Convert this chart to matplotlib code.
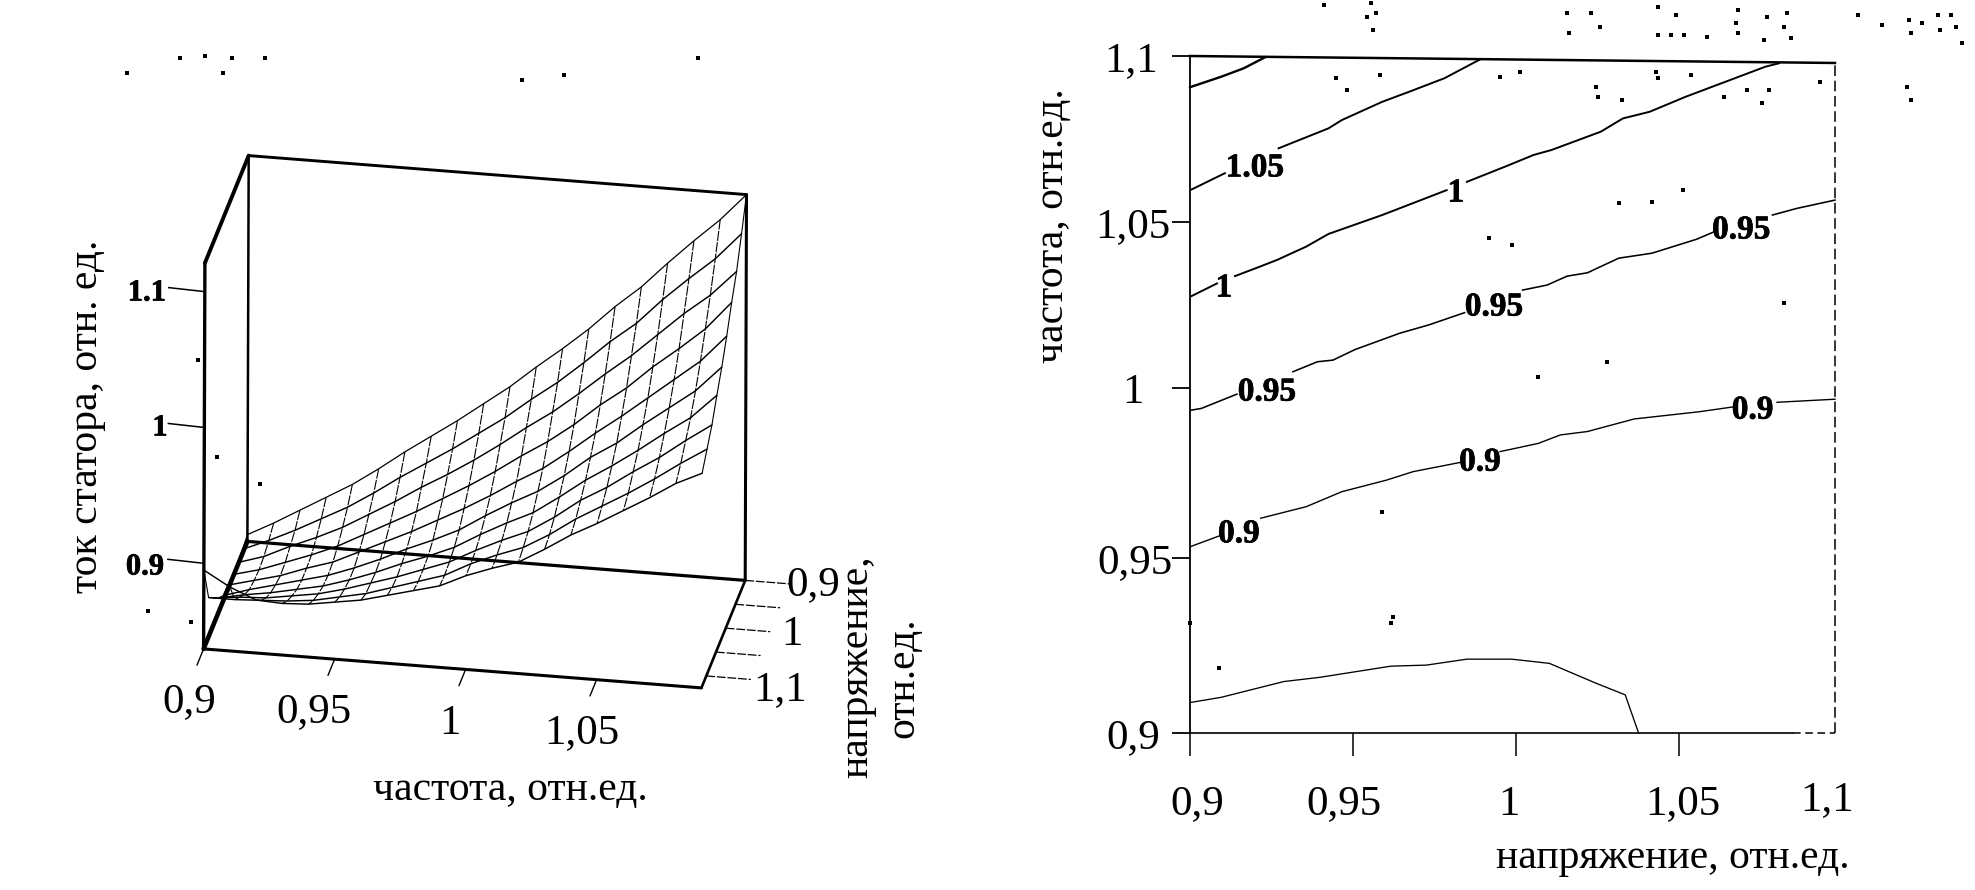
import numpy as np
import matplotlib
matplotlib.use("Agg")
import matplotlib.pyplot as plt
import matplotlib.patheffects as pe
from matplotlib.transforms import ScaledTranslation

plt.rcParams['font.family'] = ['Liberation Serif', 'DejaVu Serif']
nan = float('nan')

# ---------- left panel data: stator current over frequency / voltage ----------
FREQ = [0.90, 0.91, 0.92, 0.93, 0.94, 0.95, 0.96, 0.97, 0.98, 0.99,
        1.00, 1.01, 1.02, 1.03, 1.04, 1.05, 1.06, 1.07, 1.08, 1.09]
VOLT = [0.900, 0.925, 0.950, 0.975, 1.000, 1.025, 1.050, 1.075, 1.100, 1.125]
CUR_V0900 = [.842, .852, .863, .874, .885, .898, .912, .925, .938, .952, .966, .982, .997, 1.013, 1.031, 1.047, 1.066, 1.084, 1.101, 1.121]
CUR_V0925 = [.840, .848, .857, .867, .877, .889, .902, .914, .926, .939, .952, .967, .981, .997, 1.014, 1.029, 1.048, 1.065, 1.081, 1.101]
CUR_V0950 = [.839, .845, .854, .862, .871, .882, .893, .905, .916, .928, .941, .955, .968, .983, .999, 1.014, 1.031, 1.048, 1.063, 1.082]
CUR_V0975 = [.839, .844, .851, .858, .866, .876, .886, .896, .907, .918, .930, .943, .955, .969, .985, .999, 1.016, 1.031, 1.047, 1.068]
CUR_V1000 = [.840, .845, .850, .857, .863, .872, .881, .890, .900, .910, .921, .933, .944, .958, .973, .987, 1.002, 1.017, 1.032, 1.052]
CUR_V1025 = [.841, .847, .852, .857, .862, .869, .877, .886, .894, .903, .915, .926, .936, .949, .964, .976, .991, 1.005, 1.019, 1.038]
CUR_V1050 = [.848, .852, .855, .859, .863, .869, .876, .884, .891, .899, .910, .920, .929, .942, .956, .968, .981, .995, 1.008, 1.026]
CUR_V1075 = [.857, .859, .860, .863, .866, .871, .877, .883, .890, .897, .907, .916, .924, .936, .950, .961, .974, .986, 1.000, 1.013]
CUR_V1100 = [.866, .866, .867, .868, .870, .874, .878, .884, .890, .896, .906, .914, .921, .932, .945, .956, .967, .979, .992, 1.004]
CUR_V1125 = [.895, .884, .876, .875, .876, .879, .882, .887, .892, .897, .906, .913, .919, .930, .942, .952, .963, .974, .986, .995]
CURRENT_ROWS = [CUR_V0900, CUR_V0925, CUR_V0950, CUR_V0975, CUR_V1000,
                CUR_V1025, CUR_V1050, CUR_V1075, CUR_V1100, CUR_V1125]

FREQ_TICKS = [0.90, 0.95, 1.00, 1.05]
VOLT_TICKS = [0.90, 0.95, 1.00, 1.05, 1.10]
CUR_TICKS = [0.9, 1.0, 1.1]

# ---------- right panel data: contour lines (voltage, frequency), nan = label gap ----------
C110_V = [.9000, .9097, .9165, .9230]
C110_F = [1.0906, 1.0938, 1.0963, 1.0996]
C105_V = [.9005, .9107, nan, .9272, .9425, .9466, .9590, .9672, .9781, .9891]
C105_F = [1.0598, 1.0647, nan, 1.0722, 1.0782, 1.0807, 1.0862, 1.0892, 1.0933, 1.0990]
C100_V = [.9005, .9083, nan, .9138, .9213, .9268, .9357, .9425, .9590, .9788, nan,
          .9850, .9973, 1.0055, 1.0110, 1.0261, 1.0329, 1.0411, 1.0521, 1.0767, 1.0808]
C100_F = [1.0277, 1.0315, nan, 1.0337, 1.0365, 1.0386, 1.0426, 1.0464, 1.0521, 1.0596, nan,
          1.0621, 1.0669, 1.0702, 1.0717, 1.0772, 1.0812, 1.0832, 1.0877, 1.0968, 1.0978]
C095_V = [.9005, .9035, .9144, nan, .9316, .9391, .9439, .9507, .9644, .9733, .9843, nan,
          1.0021, 1.0096, 1.0158, 1.0220, 1.0316, 1.0418, 1.0555, 1.0610, nan, 1.0788, 1.0863, 1.0980]
C095_F = [.9935, .9940, .9982, nan, 1.0049, 1.0079, 1.0084, 1.0116, 1.0165, 1.0190, 1.0227, nan,
          1.0295, 1.0310, 1.0337, 1.0347, 1.0391, 1.0406, 1.0448, 1.0471, nan, 1.0521, 1.0541, 1.0566]
C090_V = [.9000, .9090, nan, .9217, .9357, .9466, .9603, .9685, .9829, nan,
          .9952, 1.0069, 1.0137, 1.0220, 1.0364, 1.0562, 1.0672, nan, 1.0802, 1.0980]
C090_F = [.9533, .9565, nan, .9617, .9651, .9695, .9729, .9754, .9781, nan,
          .9813, .9837, .9862, .9872, .9909, .9930, .9945, nan, .9958, .9967]
C085_V = [.9000, .9096, .9288, .9398, .9617, .9726, .9850, .9987, 1.0103, 1.0247, 1.0336, 1.0377]
C085_F = [.9087, .9102, .9147, .9159, .9191, .9194, .9211, .9211, .9199, .9142, .9109, .9000]

LABEL_TEXT = ['1.05', '1', '1', '0.95', '0.95', '0.95', '0.9', '0.9', '0.9']
LABEL_V = [.9199, .9816, .9104, 1.0692, .9933, .9236, 1.0727, .9890, .9150]
LABEL_F = [1.0663, 1.0587, 1.0301, 1.0476, 1.0244, .9988, .9935, .9782, .9571]

# scan dirt in the reference, figure pixels
SPECK_X = [1371, 1376, 1373, 1324, 1367, 1591, 1600, 1567, 1569, 1658, 1676, 1671, 1684, 1658, 1707, 1738,
           1736, 1738, 1767, 1764, 1787, 1784, 1791, 1858, 1882, 1909, 1911, 1922, 1938, 1940, 1951, 1956, 1962,
           1336, 1347, 1380, 1520, 1500, 1596, 1598, 1622, 1658, 1656, 1691, 1724, 1747, 1762, 1769, 1820, 1911, 1907,
           127, 223, 180, 205, 232, 265, 564, 698, 522, 260, 191, 148, 217, 198,
           1391, 1219, 1382, 1190, 1393, 1683, 1652, 1619, 1784, 1489, 1512, 1607, 1538]
SPECK_Y = [3, 13, 30, 5, 17, 13, 27, 13, 33, 7, 15, 35, 35, 35, 37, 10,
           23, 33, 17, 40, 13, 27, 38, 15, 25, 20, 33, 23, 15, 30, 15, 27, 43,
           78, 90, 75, 72, 77, 87, 97, 100, 78, 72, 75, 97, 90, 103, 90, 82, 100, 87,
           73, 73, 58, 56, 58, 58, 75, 58, 80, 484, 622, 611, 457, 360,
           623, 668, 512, 623, 617, 190, 202, 203, 303, 238, 245, 362, 377]

W, H = 1975, 890
fig = plt.figure(figsize=(W / 100, H / 100), dpi=100, facecolor='white')
HEAVY = [pe.withStroke(linewidth=0.5, foreground='black')]

# ---------- left panel, parallel projection onto a pixel-scaled axes ----------
ax = fig.add_axes([0, 0, 1, 1])
ax.set_xlim(0, W)
ax.set_ylim(H, 0)
ax.axis('off')

F0, F1 = FREQ[0], FREQ[-1]
V0, V1 = VOLT[0], VOLT[-1]
Z0, Z1 = 0.837, 1.121


def proj(f, v, z):
    u = (np.asarray(f, float) - F0) / (F1 - F0)
    s = (np.asarray(v, float) - V0) / (V1 - V0)
    h = (np.asarray(z, float) - Z0) / (Z1 - Z0)
    return (247.4 + 497.8 * u - 43.8 * s + 1.3 * h,
            541.4 + 39.0 * u + 107.5 * s - 385.8 * h)


def line3(f, v, z, **kw):
    x, y = proj(f, v, z)
    ax.plot(x, y, color='black', solid_capstyle='round', **kw)


cur = np.array(CURRENT_ROWS)
for j, v in enumerate(VOLT):
    line3(FREQ, [v] * len(FREQ), cur[j], lw=1.05 if j else 0.9)
for i, f in enumerate(FREQ):
    line3([f] * len(VOLT), VOLT, cur[:, i], lw=0.8, ls=(0, (9, 1.2)) if i not in (0, 19) else '-')

# box
line3([F0, F1], [V0, V0], [Z1, Z1], lw=2.1)      # back top
line3([F0, F0], [V0, V0], [Z0, Z1], lw=1.8)      # back left
line3([F1, F1], [V0, V0], [Z0, Z1], lw=2.2)      # back right
line3([F0, F1], [V0, V0], [Z0, Z0], lw=2.3)      # back floor
line3([F0, F1], [V1, V1], [Z0, Z0], lw=2.2)      # front floor
line3([F1, F1], [V0, V1], [Z0, Z0], lw=1.9)      # right floor
line3([F0, F0], [V0, V1], [Z0, Z0], lw=3.3)      # left floor
line3([F0, F0], [V1, V1], [Z0, Z1], lw=2.4)      # front left
line3([F0, F0], [V0, V1], [Z1, Z1], lw=2.8)      # left top

# axis ticks
for z in CUR_TICKS:
    x, y = proj(F0, V1, z)
    ax.plot([x, x - 36], [y, y - 4], color='black', lw=1.1)
for f in FREQ_TICKS:
    line3([f, f], [V1, V1 + 0.034], [Z0, Z0], lw=1.0)
for v in VOLT_TICKS:
    line3([F1, F1 + 0.017], [v, v], [Z0, Z0], lw=0.9, ls=(0, (7, 1.5)))

TS = 31
LS = 30
for txt, x, y in [('0,9', 189, 702), ('0,95', 314, 712), ('1', 450, 724), ('1,05', 582, 733),
                  ('0,9', 813, 585), ('1', 792, 635), ('1,1', 780, 690)]:
    ax.text(x, y, txt, fontsize=TS, ha='center', va='center')
for txt, x, y in [('1.1', 147, 293), ('1', 160, 428), ('0.9', 145, 567)]:
    ax.text(x, y, txt, fontsize=22, fontweight='bold', ha='center', va='center', path_effects=HEAVY)
ax.text(87, 416, 'ток статора, отн. ед.', fontsize=LS, rotation=90, ha='center', va='center')
ax.text(510, 790, 'частота, отн.ед.', fontsize=LS, ha='center', va='center')
ax.text(857, 667, 'напряжение,', fontsize=LS, rotation=90, ha='center', va='center')
ax.text(903, 678, 'отн.ед.', fontsize=LS, rotation=90, ha='center', va='center')
ax.text(1053, 226, 'частота, отн.ед.', fontsize=LS, rotation=90, ha='center', va='center')
ax.text(1673, 858, 'напряжение, отн.ед.', fontsize=LS, ha='center', va='center')
ax.scatter(SPECK_X, SPECK_Y, s=6, marker='s', color='black', linewidths=0)

# ---------- right panel ----------
rx0, rx1, ry0, ry1 = 1190, 1835, 733, 56
axr = fig.add_axes([rx0 / W, 1 - ry0 / H, (rx1 - rx0) / W, (ry0 - ry1) / H])
axr.patch.set_alpha(0)
KNOTS_F = [0.90, 0.95, 1.00, 1.05, 1.10]
KNOTS_P = [0, 175, 345, 511, 677]    # uneven spacing of the scanned axis
axr.set_yscale('function', functions=(lambda a: np.interp(a, KNOTS_F, KNOTS_P),
                                      lambda a: np.interp(a, KNOTS_P, KNOTS_F)))
axr.set_xlim(0.90, 1.098)
axr.set_ylim(0.90, 1.10)
for s in axr.spines.values():
    s.set_visible(False)

for cv, cf, lw in [(C110_V, C110_F, 1.7), (C105_V, C105_F, 1.4), (C100_V, C100_F, 1.4),
                   (C095_V, C095_F, 1.15), (C090_V, C090_F, 1.0), (C085_V, C085_F, 0.95)]:
    axr.plot(cv, cf, color='black', lw=lw, clip_on=False)
for t, v, f in zip(LABEL_TEXT, LABEL_V, LABEL_F):
    axr.text(v, f, t, fontsize=24, fontweight='bold', ha='center', va='center', path_effects=HEAVY)

# frame
axr.plot([.90, 1.098], [1.10, 1.0979], color='black', lw=1.8, clip_on=False)
axr.plot([.90, 1.085], [.90, .8996], color='black', lw=1.2, clip_on=False)
axr.plot([1.085, 1.098], [.8996, .8994], color='black', lw=1.1, ls=(0, (5, 3)), clip_on=False)
axr.plot([.90, .90], [.90, 1.10], color='black', lw=1.3, clip_on=False)
axr.plot([1.098, 1.098], [.9, 1.0979], color='black', lw=1.1, ls=(0, (7, 3)), clip_on=False)

axr.set_xticks([.90, .95, 1.00, 1.05])
axr.set_xticklabels(['0,9', '0,95', '1', '1,05'])
axr.set_yticks(KNOTS_F)
axr.set_yticklabels(['0,9', '0,95', '1', '1,05', '1,1'])
axr.minorticks_off()
axr.tick_params(axis='x', length=16.5, width=1.1, pad=21, labelsize=TS)
axr.tick_params(axis='y', length=13, width=1.3, pad=28, labelsize=TS)
for lab in axr.get_yticklabels():
    lab.set_ha('center')
# small per-label shifts measured on the reference (pixels)
for lab, dx in zip(axr.get_xticklabels(), [7, -9, -7, 4]):
    lab.set_transform(lab.get_transform() + ScaledTranslation(dx / 100, 0, fig.dpi_scale_trans))
for lab, dx in zip(axr.get_yticklabels(), [0, 2, 0, 0, -2]):
    lab.set_transform(lab.get_transform() + ScaledTranslation(dx / 100, 0, fig.dpi_scale_trans))
axr.text(1.0957, -0.071, '1,1', fontsize=TS, ha='center', va='top',
         transform=axr.get_xaxis_transform())

fig.savefig('out.png', dpi=100, facecolor='white')
